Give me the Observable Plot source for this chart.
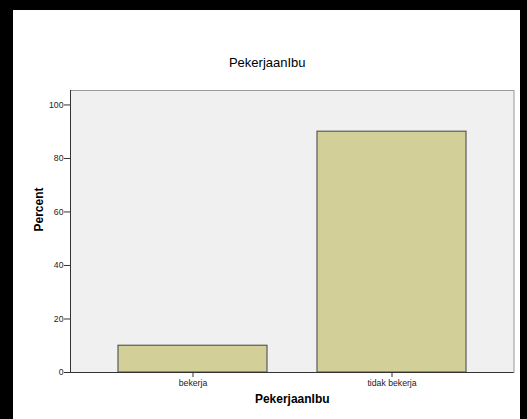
<!DOCTYPE html>
<html>
<head>
<meta charset="utf-8">
<script src="https://cdn.jsdelivr.net/npm/d3@7"></script>
<script src="https://cdn.jsdelivr.net/npm/@observablehq/plot@0.6"></script>
<style>
  html, body { margin: 0; padding: 0; background: white; }
  #wrap { position: relative; width: 527px; height: 419px; overflow: hidden; }
  #border { position: absolute; left: 0; top: 0; width: 527px; height: 419px; box-sizing: border-box;
            border-left: 13px solid #000; border-top: 10px solid #000; border-right: 7px solid #000; pointer-events: none; }
</style>
</head>
<body>
<div id="wrap"><div id="border"></div></div>
<script>
const categories = ["bekerja", "tidak bekerja"];
const percents = [10, 90];
const yTicks = [0, 20, 40, 60, 80, 100];
const titleText = "PekerjaanIbu";
const xLabel = "PekerjaanIbu";
const yLabel = "Percent";

const data = categories.map((c, i) => ({category: c, percent: percents[i]}));

const chart = Plot.plot({
  width: 527,
  height: 419,
  marginLeft: 70,
  marginRight: 13.5,
  marginTop: 90,
  marginBottom: 47,
  style: {fontFamily: "'Liberation Sans', Arial, sans-serif", background: "white", color: "#222"},
  x: {domain: categories, paddingInner: 0.25, paddingOuter: 0.235, label: null},
  y: {domain: [0, 105.4], label: null},
  marks: [
    Plot.frame({fill: "#f0f0f0", stroke: "#999"}),
    Plot.barY(data, {x: "category", y: "percent", fill: "#d3cf98", stroke: "#5a5a5a", strokeWidth: 1.2}),
    Plot.frame({anchor: "left", stroke: "#333"}),
    Plot.ruleY([0], {stroke: "#333"}),
    Plot.axisX({tickSize: 5, tickPadding: 2, fontSize: 8.7, label: null, stroke: "#333"}),
    Plot.axisY({ticks: yTicks, tickSize: 6, tickPadding: 1, fontSize: 8.7, label: null, stroke: "#333"}),
    Plot.text([titleText], {frameAnchor: "top", dx: -25, dy: -33, fontSize: 13, fill: "#000"}),
    Plot.text([xLabel], {frameAnchor: "bottom", dy: 30.5, fontSize: 12, fontWeight: "bold", fill: "#000"}),
    Plot.text([yLabel], {frameAnchor: "left", dx: -31, rotate: -90, fontSize: 12, fontWeight: "bold", fill: "#000"})
  ]
});
document.getElementById("wrap").prepend(chart);
</script>
</body>
</html>
